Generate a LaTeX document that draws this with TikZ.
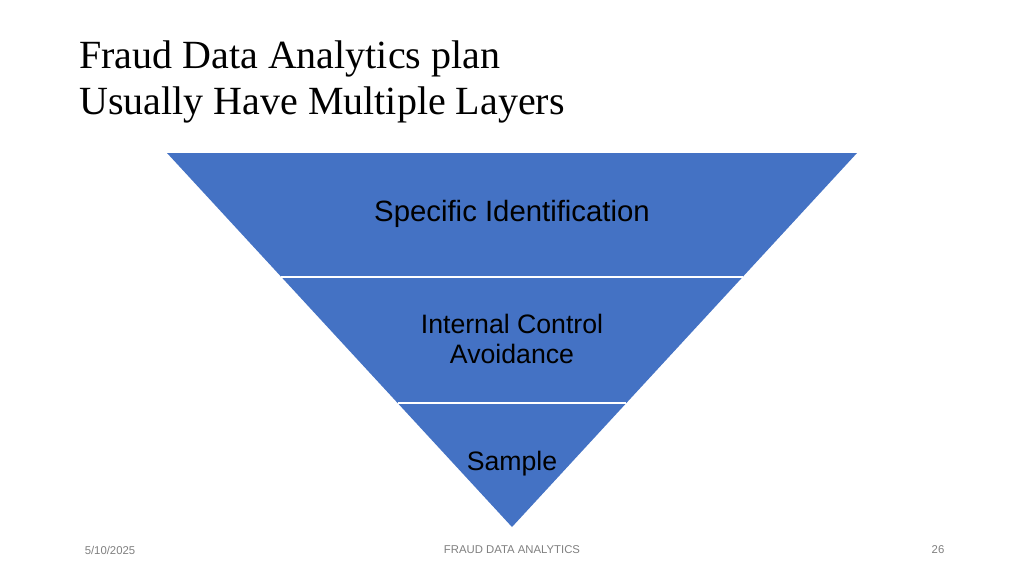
\documentclass[tikz,border=0pt]{standalone}
\usepackage{fontspec}
\setmainfont{Liberation Serif}
\newfontfamily\sansf{Liberation Sans}
\begin{document}
\begin{tikzpicture}[x=0.75pt,y=-0.75pt,
  seg/.style={fill=blue0,draw=white,line width=1pt},
  lab/.style={font=\sansf\fontsize{20}{23}\selectfont,text=black,align=center},
  foot/.style={font=\sansf\fontsize{8.5}{10}\selectfont,text=gray}]
\definecolor{blue0}{HTML}{4472C4}
\useasboundingbox (0,0) rectangle (1024,576);
\fill[white] (0,0) rectangle (1024,576);
\node[anchor=north west,align=left,font=\fontsize{30}{35}\selectfont,inner sep=0] (title) at (79,40) {Fraud Data Analytics plan\\Usually Have Multiple Layers};
\fill[blue0] (167,153) -- (857,153) -- (512,527) -- cycle;
\draw[white,line width=0.8pt] (281.4,277) -- (742.6,277);
\draw[white,line width=0.8pt] (397.6,403) -- (626.4,403);
\node[lab,font=\sansf\fontsize{22}{26}\selectfont] (l1) at (512,214) {Specific Identification};
\node[lab] (l2) at (512,339) {Internal Control\\Avoidance};
\node[lab] (l3) at (512,464) {Sample};
\node[foot] (d) at (110,550) {5/10/2025};
\node[foot] (f) at (512,550) {FRAUD DATA ANALYTICS};
\node[foot] (p) at (938,550) {26};
\end{tikzpicture}
\end{document}
